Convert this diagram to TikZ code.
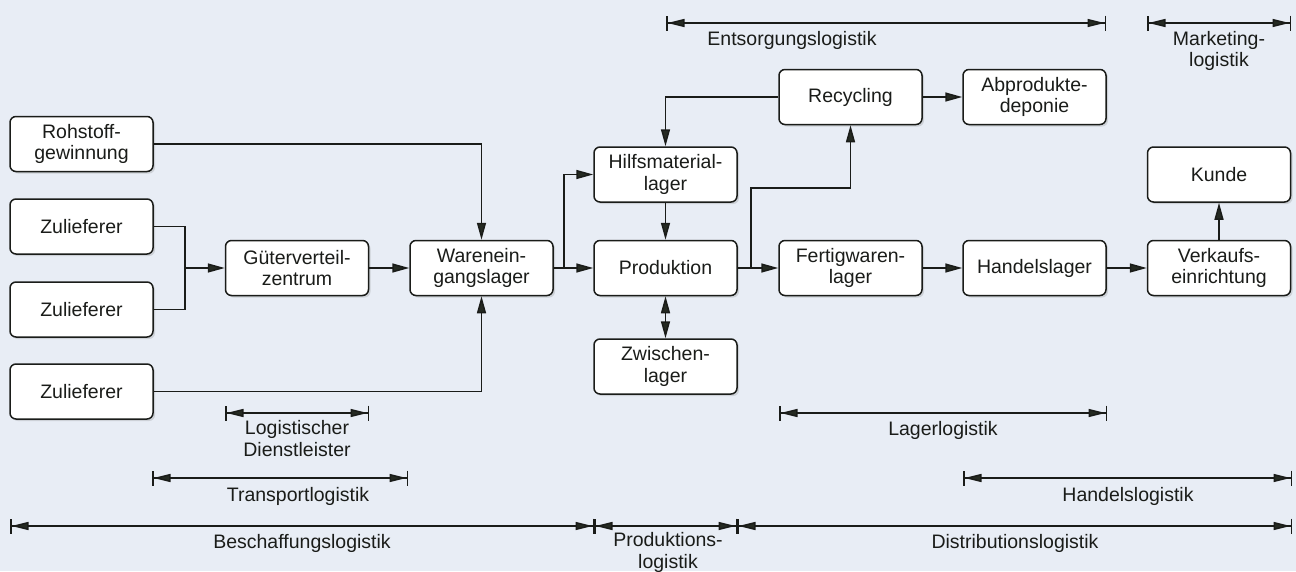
\documentclass[tikz,border=0pt]{standalone}
\usepackage{fontspec}
\setmainfont{Liberation Sans}
\usetikzlibrary{arrows.meta,shadows,calc}
\definecolor{paper}{HTML}{E8EDF5}
\definecolor{ink}{HTML}{1A1C19}
\definecolor{tipc}{HTML}{252A22}
\begin{document}
\begin{tikzpicture}[x=1pt,y=-1pt,
  every node/.style={font=\fontsize{19.5}{21.5}\selectfont, text=ink},
  box/.style={draw=ink, line width=1.5pt, fill=white, rounded corners=6pt,
    minimum width=143pt, minimum height=55pt, align=center, inner sep=2pt,
    drop shadow={shadow xshift=2pt, shadow yshift=-2pt, opacity=0.25}},
  flow/.style={draw=ink, line width=1.5pt},
  tip/.style={Triangle[length=17pt,width=9pt,fill=tipc]},
  arr/.style={flow, -{Triangle[length=17pt,width=9pt,fill=tipc]}},
  twoarr/.style={flow, {Triangle[length=17pt,width=9pt,fill=tipc]}-{Triangle[length=17pt,width=9pt,fill=tipc]}},
  span/.style={draw=ink, line width=1.5pt,
    {Bar[width=15pt,sep=0pt]Triangle[length=17pt,width=8pt,sep=0pt,fill=tipc]}-{Triangle[length=17pt,width=8pt,sep=0pt,fill=tipc]Bar[width=15pt,sep=0pt]}},
  lbl/.style={anchor=base, inner sep=0pt},
  lbl2/.style={align=center, inner sep=0pt}
]
\fill[paper] (0,0) rectangle (1296,571);
\useasboundingbox (0,0) rectangle (1296,571);

% supply side
\node[box] (rg) at (81.5,144)   {Rohstoff-\\gewinnung};
\node[box] (z1) at (81.5,226.5) {Zulieferer};
\node[box] (z2) at (81.5,309.5) {Zulieferer};
\node[box] (z3) at (81.5,391.5) {Zulieferer};
\node[box] (gv) at (297,268)    {Güterverteil-\\zentrum};
\node[box] (wl) at (481.5,268)  {Warenein-\\gangslager};

% production
\node[box] (hm) at (665.5,174.5) {Hilfsmaterial-\\lager};
\node[box] (pr) at (665.5,268)   {Produktion};
\node[box] (zl) at (665.5,366.5) {Zwischen-\\lager};

% disposal and distribution
\node[box] (rc) at (850.5,97)   {Recycling};
\node[box] (ad) at (1034.5,97)  {Abprodukte-\\deponie};
\node[box] (fw) at (850.5,268)  {Fertigwaren-\\lager};
\node[box] (hl) at (1034.5,268) {Handelslager};
\node[box] (ve) at (1219,268)   {Verkaufs-\\einrichtung};
\node[box] (ku) at (1219,174.5) {Kunde};

% junctions
\coordinate (jz) at (185,268);
\coordinate (jw) at (564,268);
\coordinate (jp) at (751,268);
\coordinate (jr) at (850.5,188);

% material flow
\draw[flow] (z1.east) -| (jz);
\draw[flow] (z2.east) -| (jz);
\draw[arr] (jz) -- (gv.west);
\draw[arr] (gv.east) -- (wl.west);
\draw[arr] (rg.east) -| (wl.north);
\draw[arr] (z3.east) -| (wl.south);
\draw[arr] (wl.east) -- (pr.west);
\draw[arr] (jw) |- (hm.west);
\draw[arr] (hm.south) -- (pr.north);
\draw[twoarr] (pr.south) -- (zl.north);
\draw[arr] (pr.east) -- (fw.west);
\draw[arr] (jp) |- (jr) -- (rc.south);
\draw[arr] (rc.west) -| (hm.north);
\draw[arr] (rc.east) -- (ad.west);
\draw[arr] (fw.east) -- (hl.west);
\draw[arr] (hl.east) -- (ve.west);
\draw[arr] (ve.north) -- (ku.south);

% ranges of the logistics fields
\coordinate (e1) at (666,23);   \coordinate (e2) at (1106,23);
\coordinate (m1) at (1147,23);  \coordinate (m2) at (1291,23);
\coordinate (d1) at (225,413);  \coordinate (d2) at (369,413);
\coordinate (l1) at (779,413);  \coordinate (l2) at (1107,413);
\coordinate (t1) at (152,478);  \coordinate (t2) at (408,478);
\coordinate (h1) at (963,478);  \coordinate (h2) at (1292,478);
\coordinate (b1) at (10,526);   \coordinate (b2) at (594,526);
\coordinate (p2) at (737,526);  \coordinate (s2) at (1292,526);

\draw[span] (e1) -- (e2);
\draw[span] (m1) -- (m2);
\draw[span] (d1) -- (d2);
\draw[span] (l1) -- (l2);
\draw[span] (t1) -- (t2);
\draw[span] (h1) -- (h2);
\draw[span] (b1) -- (b2);
\draw[span] (b2) -- (p2);
\draw[span] (p2) -- (s2);

\node[lbl] (le) at (792,45)   {Entsorgungslogistik};
\node[lbl2] (lm) at (1219,51) {Marketing-\\logistik};
\node[lbl2] (ld) at (297,438.5) {Logistischer\\Dienstleister};
\node[lbl] (ll) at (943,435)  {Lagerlogistik};
\node[lbl] (lt) at (298,501)  {Transportlogistik};
\node[lbl] (lh) at (1128,501) {Handelslogistik};
\node[lbl] (lb) at (302,548)  {Beschaffungslogistik};
\node[lbl2] (lp) at (668,552.5) {Produktions-\\logistik};
\node[lbl] (ls) at (1015,548) {Distributionslogistik};
\end{tikzpicture}
\end{document}
